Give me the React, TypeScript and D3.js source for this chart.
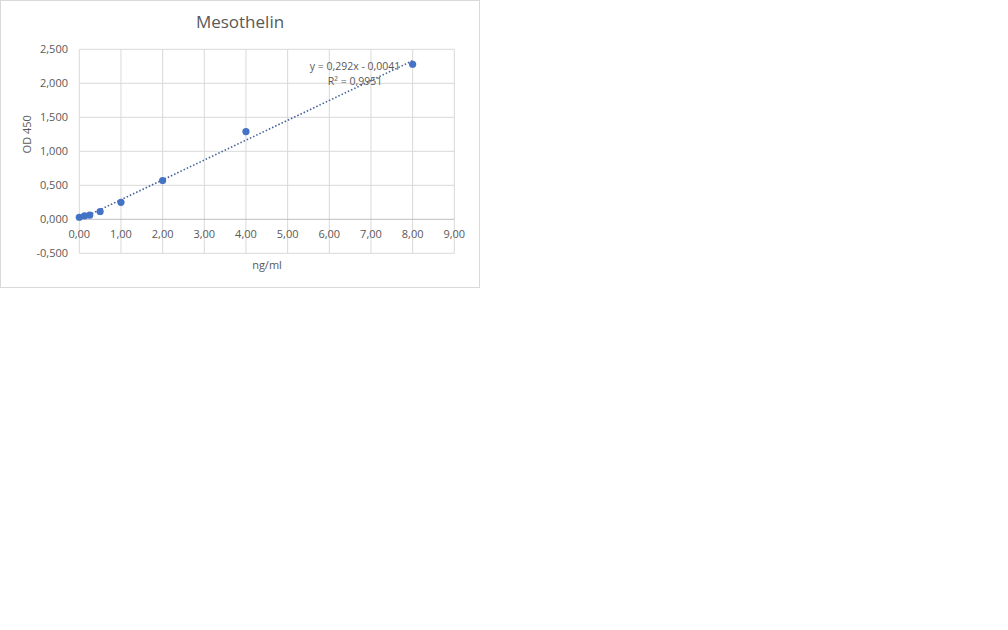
import * as d3 from 'd3';
import { useEffect, useRef } from 'react';

// standard curve, ng/ml vs OD 450
const concentrations = [0, 0.125, 0.25, 0.5, 1, 2, 4, 8];
const odValues = [0.03, 0.05, 0.06, 0.115, 0.25, 0.57, 1.29, 2.28];
const xTicks = [0, 1, 2, 3, 4, 5, 6, 7, 8, 9];
const yTicks = [-0.5, 0, 0.5, 1, 1.5, 2, 2.5];
const slope = 0.292;
const intercept = -0.0041;
const equationLines = ['y = 0,292x - 0,0041', 'R² = 0,9951'];

const W = 1008;
const H = 630;

const App = () => {
  const ref = useRef<SVGSVGElement | null>(null);

  useEffect(() => {
    const svg = d3.select(ref.current);
    svg.selectAll('*').remove();

    const locale = d3.formatLocale({ decimal: ',', thousands: '.', grouping: [3], currency: ['', ''], minus: '-' });
    const fx = locale.format('.2f');
    const fy = locale.format('.3f');
    const font = '"Open Sans", "Noto Sans", sans-serif';
    const textColor = '#595959';
    const blue = '#4472C4';

    svg.append('rect').attr('width', W).attr('height', H).attr('fill', '#fff');
    // chart frame
    svg
      .append('rect')
      .attr('x', 0.5)
      .attr('y', 0.5)
      .attr('width', 479)
      .attr('height', 287)
      .attr('fill', '#fff')
      .attr('stroke', '#d9d9d9');

    const x = d3.scaleLinear().domain([0, 9]).range([79.3, 454.3]);
    const y = d3.scaleLinear().domain([-0.5, 2.5]).range([253.3, 49.3]);

    const g = svg.append('g');

    g.append('g')
      .selectAll('line')
      .data(xTicks)
      .join('line')
      .attr('x1', (d) => x(d))
      .attr('x2', (d) => x(d))
      .attr('y1', y(2.5))
      .attr('y2', y(-0.5))
      .attr('stroke', '#d9d9d9')
      .attr('stroke-width', 1);

    g.append('g')
      .selectAll('line')
      .data(yTicks)
      .join('line')
      .attr('x1', x(0))
      .attr('x2', x(9))
      .attr('y1', (d) => y(d))
      .attr('y2', (d) => y(d))
      .attr('stroke', (d) => (d === 0 ? '#bfbfbf' : '#d9d9d9'))
      .attr('stroke-width', 1);

    // y tick labels
    g.append('g')
      .attr('font-family', font)
      .attr('font-size', 11)
      .attr('fill', textColor)
      .attr('text-anchor', 'end')
      .selectAll('text')
      .data(yTicks)
      .join('text')
      .attr('x', 68)
      .attr('y', (d) => y(d))
      .attr('dy', '0.35em')
      .text((d) => fy(d));

    // x tick labels, sitting just under the zero line
    g.append('g')
      .attr('font-family', font)
      .attr('font-size', 11)
      .attr('fill', textColor)
      .attr('text-anchor', 'middle')
      .selectAll('text')
      .data(xTicks)
      .join('text')
      .attr('x', (d) => x(d))
      .attr('y', y(0) + 19)
      .text((d) => fx(d));

    // trendline (dotted)
    const line = d3
      .line<number>()
      .x((d) => x(d))
      .y((d) => y(slope * d + intercept));
    g.append('path')
      .attr('d', line([0, 8]))
      .attr('fill', 'none')
      .attr('stroke', '#45619a')
      .attr('stroke-width', 1.6)
      .attr('stroke-dasharray', '1.5 2');

    g.append('g')
      .selectAll('circle')
      .data(concentrations)
      .join('circle')
      .attr('cx', (d) => x(d))
      .attr('cy', (_, i) => y(odValues[i]))
      .attr('r', 3.6)
      .attr('fill', blue);

    g.append('g')
      .attr('font-family', font)
      .attr('font-size', 10.5)
      .attr('fill', textColor)
      .attr('text-anchor', 'middle')
      .selectAll('text')
      .data(equationLines)
      .join('text')
      .attr('x', 355)
      .attr('y', (_, i) => 70 + i * 15)
      .text((d) => d);

    svg
      .append('text')
      .attr('x', 240)
      .attr('y', 28)
      .attr('text-anchor', 'middle')
      .attr('font-family', font)
      .attr('font-size', 17)
      .attr('fill', textColor)
      .text('Mesothelin');

    svg
      .append('text')
      .attr('x', 267)
      .attr('y', 269)
      .attr('text-anchor', 'middle')
      .attr('font-family', font)
      .attr('font-size', 11)
      .attr('fill', textColor)
      .text('ng/ml');

    svg
      .append('text')
      .attr('transform', `translate(31, ${(y(2.5) + y(-0.5)) / 2 - 17}) rotate(-90)`)
      .attr('text-anchor', 'middle')
      .attr('font-family', font)
      .attr('font-size', 11)
      .attr('fill', textColor)
      .text('OD 450');
  }, []);

  return (
    <svg
      ref={ref}
      width={W}
      height={H}
      style={{ position: 'absolute', left: 0, top: 0, display: 'block' }}
    />
  );
};

export default App;
